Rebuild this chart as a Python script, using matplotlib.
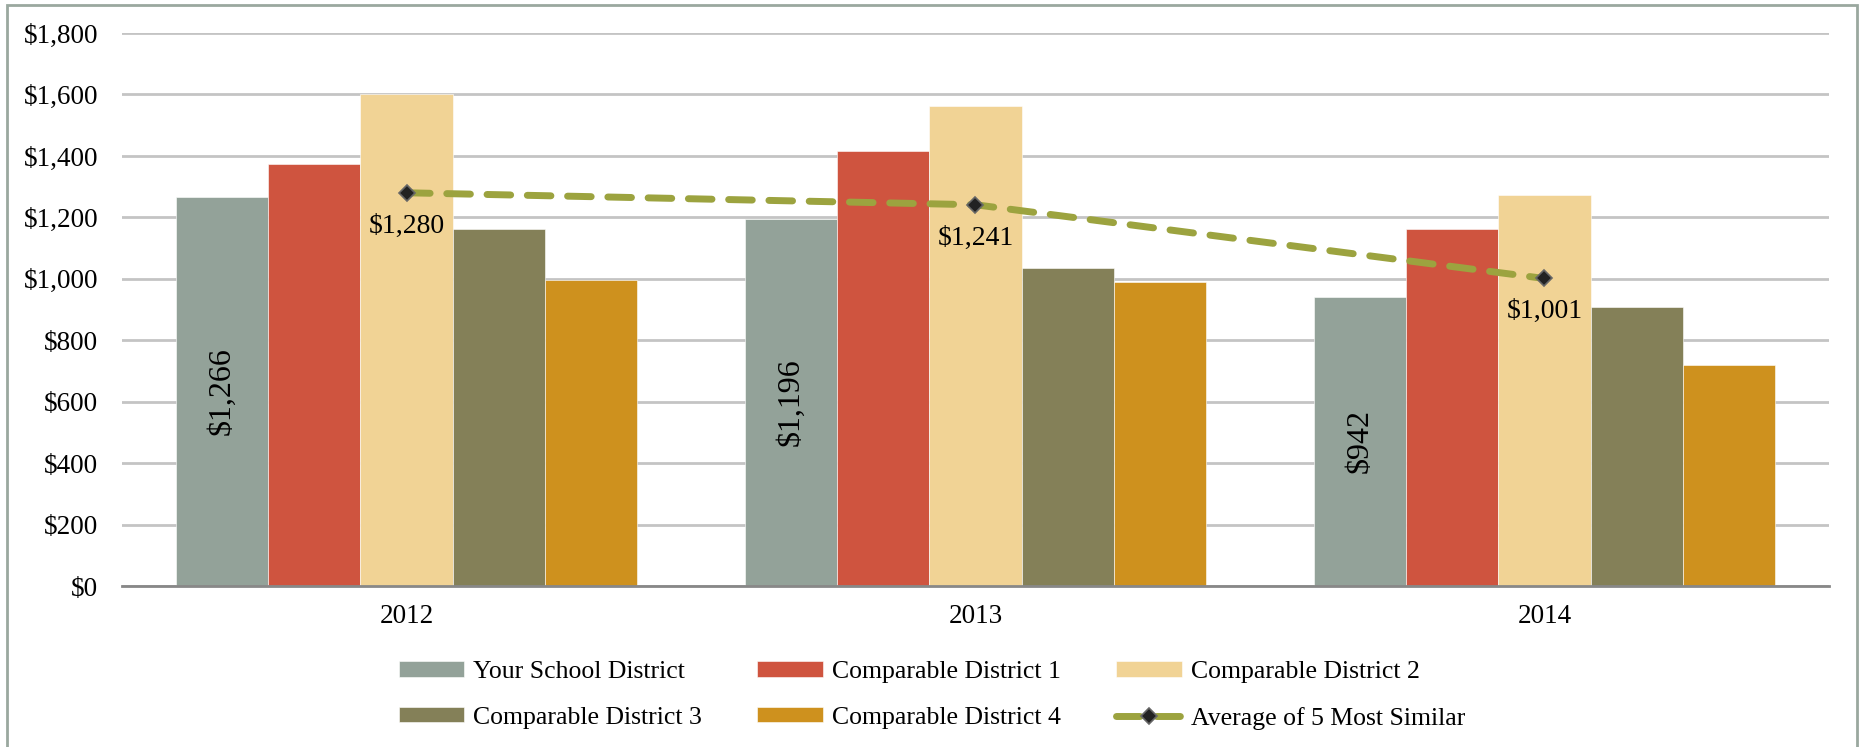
import numpy as np
import matplotlib.pyplot as plt
from matplotlib.patches import Rectangle
from matplotlib.ticker import FuncFormatter

# --- DATA ---
years = ['2012', '2013', '2014']
series_names = ['Your School District', 'Comparable District 1', 'Comparable District 2',
                'Comparable District 3', 'Comparable District 4']
your_district = [1266, 1196, 942]
district_1 = [1375, 1417, 1162]
district_2 = [1600, 1564, 1274]
district_3 = [1162, 1035, 907]
district_4 = [995, 988, 718]
average_5 = [1280, 1241, 1001]
avg_name = 'Average of 5 Most Similar'

# --- STYLE ---
colors = ['#93A299', '#CF543F', '#F1D395', '#848058', '#CE911E']
line_color = '#9CA33F'
plt.rcParams['font.family'] = ['Liberation Serif', 'DejaVu Serif']

fig = plt.figure(figsize=(18.6, 7.47), dpi=100)
ax = fig.add_axes([0.0656, 0.2155, 0.9177, 0.7403])

x = np.arange(len(years))
bar_w = 0.162
all_series = [your_district, district_1, district_2, district_3, district_4]
handles = []
for i, (vals, c, name) in enumerate(zip(all_series, colors, series_names)):
    offs = (i - 2) * bar_w
    bars = ax.bar(x + offs, vals, width=bar_w, color=c, edgecolor='white',
                  linewidth=0.4, label=name, zorder=2)
    handles.append(bars)

# labels inside "your district" bars (rotated)
for xi, v in zip(x, your_district):
    ax.text(xi - 2 * bar_w, v / 2, f'${v:,}', rotation=90, ha='center', va='center',
            fontsize=23, color='black', zorder=4)

# average line
line, = ax.plot(x, average_5, color=line_color, lw=5, dashes=(3.4, 2.4),
                dash_capstyle='round', marker='D', markersize=8,
                markerfacecolor='#222222', markeredgecolor='#666666', markeredgewidth=1.2,
                label=avg_name, zorder=5)
for xi, v in zip(x, average_5):
    ax.annotate(f'${v:,}', (xi, v), xytext=(0, -15), textcoords='offset points',
                ha='center', va='top', fontsize=20, zorder=6)

ax.set_xlim(-0.5, 2.5)
ax.set_ylim(0, 1800)
ax.set_yticks(np.arange(0, 1801, 200))
ax.yaxis.set_major_formatter(FuncFormatter(lambda v, p: f'${int(v):,}'))
ax.set_xticks(x)
ax.set_xticklabels(years)
ax.tick_params(axis='both', length=0, labelsize=19.5)
ax.tick_params(axis='y', pad=17)
ax.tick_params(axis='x', pad=13)
ax.grid(axis='y', color='#C4C4C4', lw=2, zorder=0)
ax.set_axisbelow(True)
for s in ['top', 'right', 'left']:
    ax.spines[s].set_visible(False)
ax.spines['bottom'].set_color('#888888')
ax.spines['bottom'].set_linewidth(2)
ax.spines['bottom'].set_zorder(3)

# legend, 3 columns filled row-wise
leg_handles = handles + [line]
leg_labels = series_names + [avg_name]
order = [0, 3, 1, 4, 2, 5]
fig.legend([leg_handles[i] for i in order], [leg_labels[i] for i in order],
           ncol=3, loc='center', bbox_to_anchor=(0.501, 0.069), frameon=False,
           fontsize=18.5, handlelength=2.55, handleheight=0.55, columnspacing=2.15,
           labelspacing=0.92, handletextpad=0.35)

# figure border
fig.patches.append(Rectangle((7 / 1860, -0.01), 1850 / 1860, 1 - 5 / 747 + 0.01,
                             transform=fig.transFigure, fill=False,
                             edgecolor='#9AA89F', lw=2))

fig.savefig('out.png', dpi=100)
